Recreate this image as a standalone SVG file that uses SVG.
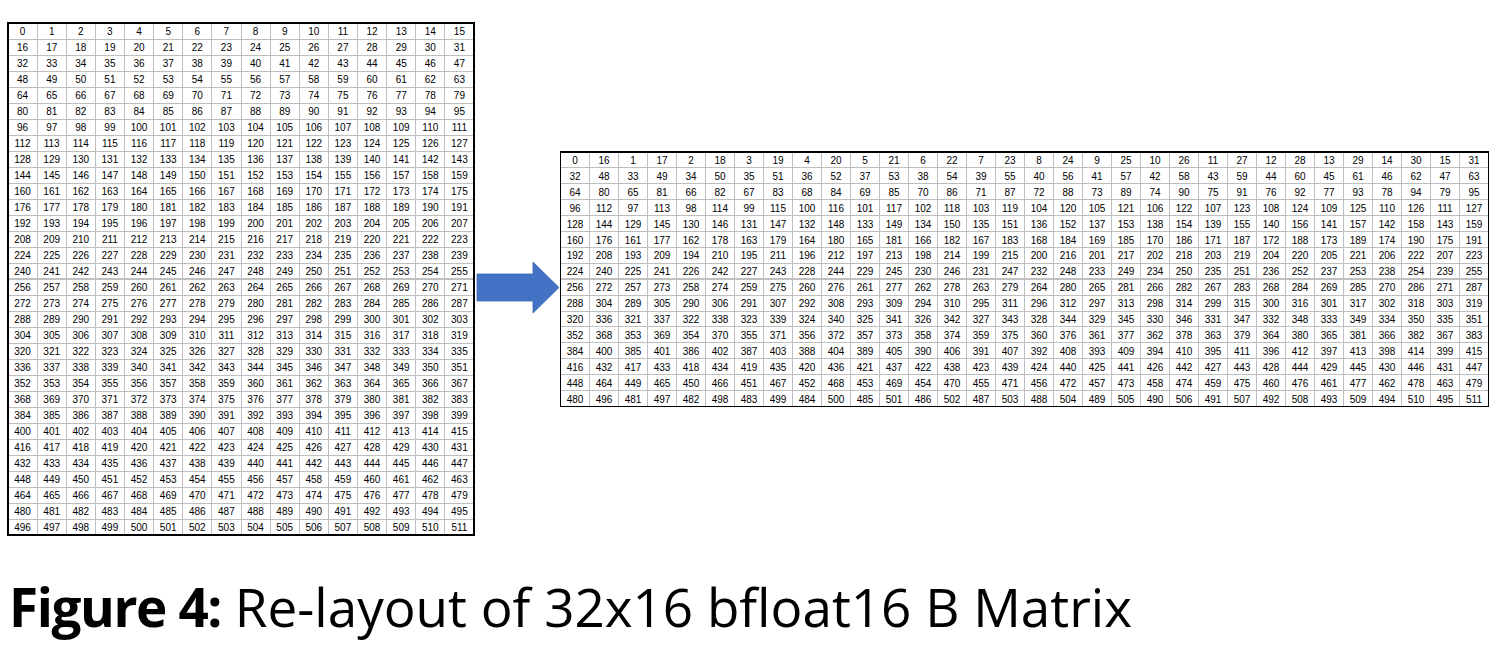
<svg xmlns="http://www.w3.org/2000/svg" width="1511" height="650" viewBox="0 0 1511 650">
<style>
.t{font-family:"Liberation Sans",Arial,sans-serif;font-size:10px;fill:#000;text-anchor:middle}
.grid{fill:none;stroke:#BFBFBF;stroke-width:1;shape-rendering:crispEdges}
.thick{fill:none;stroke:#BFBFBF;stroke-width:2;shape-rendering:crispEdges}
.border{fill:none;stroke:#000;stroke-width:1.2;shape-rendering:crispEdges}
.cap{font-family:"Open Sans","Noto Sans",sans-serif;font-size:53px;fill:#000}
</style>
<rect width="1511" height="650" fill="#fff"/>
<g id="matrix-original">
<path class="grid" d="M37.1 23V535M66.3 23V535M95.4 23V535M124.5 23V535M153.6 23V535M182.8 23V535M211.9 23V535M241 23V535M270.1 23V535M299.3 23V535M328.4 23V535M357.5 23V535M386.6 23V535M415.8 23V535M444.9 23V535M8 39H474M8 55H474M8 71H474M8 87H474M8 103H474M8 119H474M8 135H474M8 151H474M8 167H474M8 183H474M8 199H474M8 215H474M8 231H474M8 247H474M8 263H474M8 295H474M8 311H474M8 327H474M8 343H474M8 359H474M8 375H474M8 391H474M8 407H474M8 423H474M8 439H474M8 455H474M8 471H474M8 487H474M8 503H474M8 519H474"/>
<path class="thick" d="M8 279H474"/>
<rect class="border" x="8" y="23" width="466" height="512"/>
<g class="t">
<text y="35"><tspan x="22.6">0</tspan><tspan x="51.7">1</tspan><tspan x="80.8">2</tspan><tspan x="109.9">3</tspan><tspan x="139.1">4</tspan><tspan x="168.2">5</tspan><tspan x="197.3">6</tspan><tspan x="226.4">7</tspan><tspan x="255.6">8</tspan><tspan x="284.7">9</tspan><tspan x="313.8">10</tspan><tspan x="342.9">11</tspan><tspan x="372.1">12</tspan><tspan x="401.2">13</tspan><tspan x="430.3">14</tspan><tspan x="459.4">15</tspan></text>
<text y="51"><tspan x="22.6">16</tspan><tspan x="51.7">17</tspan><tspan x="80.8">18</tspan><tspan x="109.9">19</tspan><tspan x="139.1">20</tspan><tspan x="168.2">21</tspan><tspan x="197.3">22</tspan><tspan x="226.4">23</tspan><tspan x="255.6">24</tspan><tspan x="284.7">25</tspan><tspan x="313.8">26</tspan><tspan x="342.9">27</tspan><tspan x="372.1">28</tspan><tspan x="401.2">29</tspan><tspan x="430.3">30</tspan><tspan x="459.4">31</tspan></text>
<text y="67"><tspan x="22.6">32</tspan><tspan x="51.7">33</tspan><tspan x="80.8">34</tspan><tspan x="109.9">35</tspan><tspan x="139.1">36</tspan><tspan x="168.2">37</tspan><tspan x="197.3">38</tspan><tspan x="226.4">39</tspan><tspan x="255.6">40</tspan><tspan x="284.7">41</tspan><tspan x="313.8">42</tspan><tspan x="342.9">43</tspan><tspan x="372.1">44</tspan><tspan x="401.2">45</tspan><tspan x="430.3">46</tspan><tspan x="459.4">47</tspan></text>
<text y="83"><tspan x="22.6">48</tspan><tspan x="51.7">49</tspan><tspan x="80.8">50</tspan><tspan x="109.9">51</tspan><tspan x="139.1">52</tspan><tspan x="168.2">53</tspan><tspan x="197.3">54</tspan><tspan x="226.4">55</tspan><tspan x="255.6">56</tspan><tspan x="284.7">57</tspan><tspan x="313.8">58</tspan><tspan x="342.9">59</tspan><tspan x="372.1">60</tspan><tspan x="401.2">61</tspan><tspan x="430.3">62</tspan><tspan x="459.4">63</tspan></text>
<text y="99"><tspan x="22.6">64</tspan><tspan x="51.7">65</tspan><tspan x="80.8">66</tspan><tspan x="109.9">67</tspan><tspan x="139.1">68</tspan><tspan x="168.2">69</tspan><tspan x="197.3">70</tspan><tspan x="226.4">71</tspan><tspan x="255.6">72</tspan><tspan x="284.7">73</tspan><tspan x="313.8">74</tspan><tspan x="342.9">75</tspan><tspan x="372.1">76</tspan><tspan x="401.2">77</tspan><tspan x="430.3">78</tspan><tspan x="459.4">79</tspan></text>
<text y="115"><tspan x="22.6">80</tspan><tspan x="51.7">81</tspan><tspan x="80.8">82</tspan><tspan x="109.9">83</tspan><tspan x="139.1">84</tspan><tspan x="168.2">85</tspan><tspan x="197.3">86</tspan><tspan x="226.4">87</tspan><tspan x="255.6">88</tspan><tspan x="284.7">89</tspan><tspan x="313.8">90</tspan><tspan x="342.9">91</tspan><tspan x="372.1">92</tspan><tspan x="401.2">93</tspan><tspan x="430.3">94</tspan><tspan x="459.4">95</tspan></text>
<text y="131"><tspan x="22.6">96</tspan><tspan x="51.7">97</tspan><tspan x="80.8">98</tspan><tspan x="109.9">99</tspan><tspan x="139.1">100</tspan><tspan x="168.2">101</tspan><tspan x="197.3">102</tspan><tspan x="226.4">103</tspan><tspan x="255.6">104</tspan><tspan x="284.7">105</tspan><tspan x="313.8">106</tspan><tspan x="342.9">107</tspan><tspan x="372.1">108</tspan><tspan x="401.2">109</tspan><tspan x="430.3">110</tspan><tspan x="459.4">111</tspan></text>
<text y="147"><tspan x="22.6">112</tspan><tspan x="51.7">113</tspan><tspan x="80.8">114</tspan><tspan x="109.9">115</tspan><tspan x="139.1">116</tspan><tspan x="168.2">117</tspan><tspan x="197.3">118</tspan><tspan x="226.4">119</tspan><tspan x="255.6">120</tspan><tspan x="284.7">121</tspan><tspan x="313.8">122</tspan><tspan x="342.9">123</tspan><tspan x="372.1">124</tspan><tspan x="401.2">125</tspan><tspan x="430.3">126</tspan><tspan x="459.4">127</tspan></text>
<text y="163"><tspan x="22.6">128</tspan><tspan x="51.7">129</tspan><tspan x="80.8">130</tspan><tspan x="109.9">131</tspan><tspan x="139.1">132</tspan><tspan x="168.2">133</tspan><tspan x="197.3">134</tspan><tspan x="226.4">135</tspan><tspan x="255.6">136</tspan><tspan x="284.7">137</tspan><tspan x="313.8">138</tspan><tspan x="342.9">139</tspan><tspan x="372.1">140</tspan><tspan x="401.2">141</tspan><tspan x="430.3">142</tspan><tspan x="459.4">143</tspan></text>
<text y="179"><tspan x="22.6">144</tspan><tspan x="51.7">145</tspan><tspan x="80.8">146</tspan><tspan x="109.9">147</tspan><tspan x="139.1">148</tspan><tspan x="168.2">149</tspan><tspan x="197.3">150</tspan><tspan x="226.4">151</tspan><tspan x="255.6">152</tspan><tspan x="284.7">153</tspan><tspan x="313.8">154</tspan><tspan x="342.9">155</tspan><tspan x="372.1">156</tspan><tspan x="401.2">157</tspan><tspan x="430.3">158</tspan><tspan x="459.4">159</tspan></text>
<text y="195"><tspan x="22.6">160</tspan><tspan x="51.7">161</tspan><tspan x="80.8">162</tspan><tspan x="109.9">163</tspan><tspan x="139.1">164</tspan><tspan x="168.2">165</tspan><tspan x="197.3">166</tspan><tspan x="226.4">167</tspan><tspan x="255.6">168</tspan><tspan x="284.7">169</tspan><tspan x="313.8">170</tspan><tspan x="342.9">171</tspan><tspan x="372.1">172</tspan><tspan x="401.2">173</tspan><tspan x="430.3">174</tspan><tspan x="459.4">175</tspan></text>
<text y="211"><tspan x="22.6">176</tspan><tspan x="51.7">177</tspan><tspan x="80.8">178</tspan><tspan x="109.9">179</tspan><tspan x="139.1">180</tspan><tspan x="168.2">181</tspan><tspan x="197.3">182</tspan><tspan x="226.4">183</tspan><tspan x="255.6">184</tspan><tspan x="284.7">185</tspan><tspan x="313.8">186</tspan><tspan x="342.9">187</tspan><tspan x="372.1">188</tspan><tspan x="401.2">189</tspan><tspan x="430.3">190</tspan><tspan x="459.4">191</tspan></text>
<text y="227"><tspan x="22.6">192</tspan><tspan x="51.7">193</tspan><tspan x="80.8">194</tspan><tspan x="109.9">195</tspan><tspan x="139.1">196</tspan><tspan x="168.2">197</tspan><tspan x="197.3">198</tspan><tspan x="226.4">199</tspan><tspan x="255.6">200</tspan><tspan x="284.7">201</tspan><tspan x="313.8">202</tspan><tspan x="342.9">203</tspan><tspan x="372.1">204</tspan><tspan x="401.2">205</tspan><tspan x="430.3">206</tspan><tspan x="459.4">207</tspan></text>
<text y="243"><tspan x="22.6">208</tspan><tspan x="51.7">209</tspan><tspan x="80.8">210</tspan><tspan x="109.9">211</tspan><tspan x="139.1">212</tspan><tspan x="168.2">213</tspan><tspan x="197.3">214</tspan><tspan x="226.4">215</tspan><tspan x="255.6">216</tspan><tspan x="284.7">217</tspan><tspan x="313.8">218</tspan><tspan x="342.9">219</tspan><tspan x="372.1">220</tspan><tspan x="401.2">221</tspan><tspan x="430.3">222</tspan><tspan x="459.4">223</tspan></text>
<text y="259"><tspan x="22.6">224</tspan><tspan x="51.7">225</tspan><tspan x="80.8">226</tspan><tspan x="109.9">227</tspan><tspan x="139.1">228</tspan><tspan x="168.2">229</tspan><tspan x="197.3">230</tspan><tspan x="226.4">231</tspan><tspan x="255.6">232</tspan><tspan x="284.7">233</tspan><tspan x="313.8">234</tspan><tspan x="342.9">235</tspan><tspan x="372.1">236</tspan><tspan x="401.2">237</tspan><tspan x="430.3">238</tspan><tspan x="459.4">239</tspan></text>
<text y="275"><tspan x="22.6">240</tspan><tspan x="51.7">241</tspan><tspan x="80.8">242</tspan><tspan x="109.9">243</tspan><tspan x="139.1">244</tspan><tspan x="168.2">245</tspan><tspan x="197.3">246</tspan><tspan x="226.4">247</tspan><tspan x="255.6">248</tspan><tspan x="284.7">249</tspan><tspan x="313.8">250</tspan><tspan x="342.9">251</tspan><tspan x="372.1">252</tspan><tspan x="401.2">253</tspan><tspan x="430.3">254</tspan><tspan x="459.4">255</tspan></text>
<text y="291"><tspan x="22.6">256</tspan><tspan x="51.7">257</tspan><tspan x="80.8">258</tspan><tspan x="109.9">259</tspan><tspan x="139.1">260</tspan><tspan x="168.2">261</tspan><tspan x="197.3">262</tspan><tspan x="226.4">263</tspan><tspan x="255.6">264</tspan><tspan x="284.7">265</tspan><tspan x="313.8">266</tspan><tspan x="342.9">267</tspan><tspan x="372.1">268</tspan><tspan x="401.2">269</tspan><tspan x="430.3">270</tspan><tspan x="459.4">271</tspan></text>
<text y="307"><tspan x="22.6">272</tspan><tspan x="51.7">273</tspan><tspan x="80.8">274</tspan><tspan x="109.9">275</tspan><tspan x="139.1">276</tspan><tspan x="168.2">277</tspan><tspan x="197.3">278</tspan><tspan x="226.4">279</tspan><tspan x="255.6">280</tspan><tspan x="284.7">281</tspan><tspan x="313.8">282</tspan><tspan x="342.9">283</tspan><tspan x="372.1">284</tspan><tspan x="401.2">285</tspan><tspan x="430.3">286</tspan><tspan x="459.4">287</tspan></text>
<text y="323"><tspan x="22.6">288</tspan><tspan x="51.7">289</tspan><tspan x="80.8">290</tspan><tspan x="109.9">291</tspan><tspan x="139.1">292</tspan><tspan x="168.2">293</tspan><tspan x="197.3">294</tspan><tspan x="226.4">295</tspan><tspan x="255.6">296</tspan><tspan x="284.7">297</tspan><tspan x="313.8">298</tspan><tspan x="342.9">299</tspan><tspan x="372.1">300</tspan><tspan x="401.2">301</tspan><tspan x="430.3">302</tspan><tspan x="459.4">303</tspan></text>
<text y="339"><tspan x="22.6">304</tspan><tspan x="51.7">305</tspan><tspan x="80.8">306</tspan><tspan x="109.9">307</tspan><tspan x="139.1">308</tspan><tspan x="168.2">309</tspan><tspan x="197.3">310</tspan><tspan x="226.4">311</tspan><tspan x="255.6">312</tspan><tspan x="284.7">313</tspan><tspan x="313.8">314</tspan><tspan x="342.9">315</tspan><tspan x="372.1">316</tspan><tspan x="401.2">317</tspan><tspan x="430.3">318</tspan><tspan x="459.4">319</tspan></text>
<text y="355"><tspan x="22.6">320</tspan><tspan x="51.7">321</tspan><tspan x="80.8">322</tspan><tspan x="109.9">323</tspan><tspan x="139.1">324</tspan><tspan x="168.2">325</tspan><tspan x="197.3">326</tspan><tspan x="226.4">327</tspan><tspan x="255.6">328</tspan><tspan x="284.7">329</tspan><tspan x="313.8">330</tspan><tspan x="342.9">331</tspan><tspan x="372.1">332</tspan><tspan x="401.2">333</tspan><tspan x="430.3">334</tspan><tspan x="459.4">335</tspan></text>
<text y="371"><tspan x="22.6">336</tspan><tspan x="51.7">337</tspan><tspan x="80.8">338</tspan><tspan x="109.9">339</tspan><tspan x="139.1">340</tspan><tspan x="168.2">341</tspan><tspan x="197.3">342</tspan><tspan x="226.4">343</tspan><tspan x="255.6">344</tspan><tspan x="284.7">345</tspan><tspan x="313.8">346</tspan><tspan x="342.9">347</tspan><tspan x="372.1">348</tspan><tspan x="401.2">349</tspan><tspan x="430.3">350</tspan><tspan x="459.4">351</tspan></text>
<text y="387"><tspan x="22.6">352</tspan><tspan x="51.7">353</tspan><tspan x="80.8">354</tspan><tspan x="109.9">355</tspan><tspan x="139.1">356</tspan><tspan x="168.2">357</tspan><tspan x="197.3">358</tspan><tspan x="226.4">359</tspan><tspan x="255.6">360</tspan><tspan x="284.7">361</tspan><tspan x="313.8">362</tspan><tspan x="342.9">363</tspan><tspan x="372.1">364</tspan><tspan x="401.2">365</tspan><tspan x="430.3">366</tspan><tspan x="459.4">367</tspan></text>
<text y="403"><tspan x="22.6">368</tspan><tspan x="51.7">369</tspan><tspan x="80.8">370</tspan><tspan x="109.9">371</tspan><tspan x="139.1">372</tspan><tspan x="168.2">373</tspan><tspan x="197.3">374</tspan><tspan x="226.4">375</tspan><tspan x="255.6">376</tspan><tspan x="284.7">377</tspan><tspan x="313.8">378</tspan><tspan x="342.9">379</tspan><tspan x="372.1">380</tspan><tspan x="401.2">381</tspan><tspan x="430.3">382</tspan><tspan x="459.4">383</tspan></text>
<text y="419"><tspan x="22.6">384</tspan><tspan x="51.7">385</tspan><tspan x="80.8">386</tspan><tspan x="109.9">387</tspan><tspan x="139.1">388</tspan><tspan x="168.2">389</tspan><tspan x="197.3">390</tspan><tspan x="226.4">391</tspan><tspan x="255.6">392</tspan><tspan x="284.7">393</tspan><tspan x="313.8">394</tspan><tspan x="342.9">395</tspan><tspan x="372.1">396</tspan><tspan x="401.2">397</tspan><tspan x="430.3">398</tspan><tspan x="459.4">399</tspan></text>
<text y="435"><tspan x="22.6">400</tspan><tspan x="51.7">401</tspan><tspan x="80.8">402</tspan><tspan x="109.9">403</tspan><tspan x="139.1">404</tspan><tspan x="168.2">405</tspan><tspan x="197.3">406</tspan><tspan x="226.4">407</tspan><tspan x="255.6">408</tspan><tspan x="284.7">409</tspan><tspan x="313.8">410</tspan><tspan x="342.9">411</tspan><tspan x="372.1">412</tspan><tspan x="401.2">413</tspan><tspan x="430.3">414</tspan><tspan x="459.4">415</tspan></text>
<text y="451"><tspan x="22.6">416</tspan><tspan x="51.7">417</tspan><tspan x="80.8">418</tspan><tspan x="109.9">419</tspan><tspan x="139.1">420</tspan><tspan x="168.2">421</tspan><tspan x="197.3">422</tspan><tspan x="226.4">423</tspan><tspan x="255.6">424</tspan><tspan x="284.7">425</tspan><tspan x="313.8">426</tspan><tspan x="342.9">427</tspan><tspan x="372.1">428</tspan><tspan x="401.2">429</tspan><tspan x="430.3">430</tspan><tspan x="459.4">431</tspan></text>
<text y="467"><tspan x="22.6">432</tspan><tspan x="51.7">433</tspan><tspan x="80.8">434</tspan><tspan x="109.9">435</tspan><tspan x="139.1">436</tspan><tspan x="168.2">437</tspan><tspan x="197.3">438</tspan><tspan x="226.4">439</tspan><tspan x="255.6">440</tspan><tspan x="284.7">441</tspan><tspan x="313.8">442</tspan><tspan x="342.9">443</tspan><tspan x="372.1">444</tspan><tspan x="401.2">445</tspan><tspan x="430.3">446</tspan><tspan x="459.4">447</tspan></text>
<text y="483"><tspan x="22.6">448</tspan><tspan x="51.7">449</tspan><tspan x="80.8">450</tspan><tspan x="109.9">451</tspan><tspan x="139.1">452</tspan><tspan x="168.2">453</tspan><tspan x="197.3">454</tspan><tspan x="226.4">455</tspan><tspan x="255.6">456</tspan><tspan x="284.7">457</tspan><tspan x="313.8">458</tspan><tspan x="342.9">459</tspan><tspan x="372.1">460</tspan><tspan x="401.2">461</tspan><tspan x="430.3">462</tspan><tspan x="459.4">463</tspan></text>
<text y="499"><tspan x="22.6">464</tspan><tspan x="51.7">465</tspan><tspan x="80.8">466</tspan><tspan x="109.9">467</tspan><tspan x="139.1">468</tspan><tspan x="168.2">469</tspan><tspan x="197.3">470</tspan><tspan x="226.4">471</tspan><tspan x="255.6">472</tspan><tspan x="284.7">473</tspan><tspan x="313.8">474</tspan><tspan x="342.9">475</tspan><tspan x="372.1">476</tspan><tspan x="401.2">477</tspan><tspan x="430.3">478</tspan><tspan x="459.4">479</tspan></text>
<text y="515"><tspan x="22.6">480</tspan><tspan x="51.7">481</tspan><tspan x="80.8">482</tspan><tspan x="109.9">483</tspan><tspan x="139.1">484</tspan><tspan x="168.2">485</tspan><tspan x="197.3">486</tspan><tspan x="226.4">487</tspan><tspan x="255.6">488</tspan><tspan x="284.7">489</tspan><tspan x="313.8">490</tspan><tspan x="342.9">491</tspan><tspan x="372.1">492</tspan><tspan x="401.2">493</tspan><tspan x="430.3">494</tspan><tspan x="459.4">495</tspan></text>
<text y="531"><tspan x="22.6">496</tspan><tspan x="51.7">497</tspan><tspan x="80.8">498</tspan><tspan x="109.9">499</tspan><tspan x="139.1">500</tspan><tspan x="168.2">501</tspan><tspan x="197.3">502</tspan><tspan x="226.4">503</tspan><tspan x="255.6">504</tspan><tspan x="284.7">505</tspan><tspan x="313.8">506</tspan><tspan x="342.9">507</tspan><tspan x="372.1">508</tspan><tspan x="401.2">509</tspan><tspan x="430.3">510</tspan><tspan x="459.4">511</tspan></text>
</g>
</g>
<g id="matrix-relayout">
<path class="grid" d="M589.5 152V406.4M618.5 152V406.4M647.5 152V406.4M676.5 152V406.4M705.5 152V406.4M734.5 152V406.4M763.5 152V406.4M792.5 152V406.4M821.5 152V406.4M850.5 152V406.4M879.5 152V406.4M908.5 152V406.4M937.5 152V406.4M966.5 152V406.4M995.5 152V406.4M1024.5 152V406.4M1053.5 152V406.4M1082.5 152V406.4M1111.5 152V406.4M1140.5 152V406.4M1169.5 152V406.4M1198.5 152V406.4M1227.5 152V406.4M1256.5 152V406.4M1285.5 152V406.4M1314.5 152V406.4M1343.5 152V406.4M1372.5 152V406.4M1401.5 152V406.4M1430.5 152V406.4M1459.5 152V406.4M560.5 167.9H1488.5M560.5 183.8H1488.5M560.5 199.7H1488.5M560.5 215.6H1488.5M560.5 231.5H1488.5M560.5 247.4H1488.5M560.5 263.3H1488.5M560.5 295.1H1488.5M560.5 311H1488.5M560.5 326.9H1488.5M560.5 342.8H1488.5M560.5 358.7H1488.5M560.5 374.6H1488.5M560.5 390.5H1488.5"/>
<path class="thick" d="M560.5 279.2H1488.5"/>
<rect class="border" x="560.5" y="152" width="928" height="254.4"/>
<g class="t">
<text y="164"><tspan x="575">0</tspan><tspan x="604">16</tspan><tspan x="633">1</tspan><tspan x="662">17</tspan><tspan x="691">2</tspan><tspan x="720">18</tspan><tspan x="749">3</tspan><tspan x="778">19</tspan><tspan x="807">4</tspan><tspan x="836">20</tspan><tspan x="865">5</tspan><tspan x="894">21</tspan><tspan x="923">6</tspan><tspan x="952">22</tspan><tspan x="981">7</tspan><tspan x="1010">23</tspan><tspan x="1039">8</tspan><tspan x="1068">24</tspan><tspan x="1097">9</tspan><tspan x="1126">25</tspan><tspan x="1155">10</tspan><tspan x="1184">26</tspan><tspan x="1213">11</tspan><tspan x="1242">27</tspan><tspan x="1271">12</tspan><tspan x="1300">28</tspan><tspan x="1329">13</tspan><tspan x="1358">29</tspan><tspan x="1387">14</tspan><tspan x="1416">30</tspan><tspan x="1445">15</tspan><tspan x="1474">31</tspan></text>
<text y="179.9"><tspan x="575">32</tspan><tspan x="604">48</tspan><tspan x="633">33</tspan><tspan x="662">49</tspan><tspan x="691">34</tspan><tspan x="720">50</tspan><tspan x="749">35</tspan><tspan x="778">51</tspan><tspan x="807">36</tspan><tspan x="836">52</tspan><tspan x="865">37</tspan><tspan x="894">53</tspan><tspan x="923">38</tspan><tspan x="952">54</tspan><tspan x="981">39</tspan><tspan x="1010">55</tspan><tspan x="1039">40</tspan><tspan x="1068">56</tspan><tspan x="1097">41</tspan><tspan x="1126">57</tspan><tspan x="1155">42</tspan><tspan x="1184">58</tspan><tspan x="1213">43</tspan><tspan x="1242">59</tspan><tspan x="1271">44</tspan><tspan x="1300">60</tspan><tspan x="1329">45</tspan><tspan x="1358">61</tspan><tspan x="1387">46</tspan><tspan x="1416">62</tspan><tspan x="1445">47</tspan><tspan x="1474">63</tspan></text>
<text y="195.8"><tspan x="575">64</tspan><tspan x="604">80</tspan><tspan x="633">65</tspan><tspan x="662">81</tspan><tspan x="691">66</tspan><tspan x="720">82</tspan><tspan x="749">67</tspan><tspan x="778">83</tspan><tspan x="807">68</tspan><tspan x="836">84</tspan><tspan x="865">69</tspan><tspan x="894">85</tspan><tspan x="923">70</tspan><tspan x="952">86</tspan><tspan x="981">71</tspan><tspan x="1010">87</tspan><tspan x="1039">72</tspan><tspan x="1068">88</tspan><tspan x="1097">73</tspan><tspan x="1126">89</tspan><tspan x="1155">74</tspan><tspan x="1184">90</tspan><tspan x="1213">75</tspan><tspan x="1242">91</tspan><tspan x="1271">76</tspan><tspan x="1300">92</tspan><tspan x="1329">77</tspan><tspan x="1358">93</tspan><tspan x="1387">78</tspan><tspan x="1416">94</tspan><tspan x="1445">79</tspan><tspan x="1474">95</tspan></text>
<text y="211.7"><tspan x="575">96</tspan><tspan x="604">112</tspan><tspan x="633">97</tspan><tspan x="662">113</tspan><tspan x="691">98</tspan><tspan x="720">114</tspan><tspan x="749">99</tspan><tspan x="778">115</tspan><tspan x="807">100</tspan><tspan x="836">116</tspan><tspan x="865">101</tspan><tspan x="894">117</tspan><tspan x="923">102</tspan><tspan x="952">118</tspan><tspan x="981">103</tspan><tspan x="1010">119</tspan><tspan x="1039">104</tspan><tspan x="1068">120</tspan><tspan x="1097">105</tspan><tspan x="1126">121</tspan><tspan x="1155">106</tspan><tspan x="1184">122</tspan><tspan x="1213">107</tspan><tspan x="1242">123</tspan><tspan x="1271">108</tspan><tspan x="1300">124</tspan><tspan x="1329">109</tspan><tspan x="1358">125</tspan><tspan x="1387">110</tspan><tspan x="1416">126</tspan><tspan x="1445">111</tspan><tspan x="1474">127</tspan></text>
<text y="227.6"><tspan x="575">128</tspan><tspan x="604">144</tspan><tspan x="633">129</tspan><tspan x="662">145</tspan><tspan x="691">130</tspan><tspan x="720">146</tspan><tspan x="749">131</tspan><tspan x="778">147</tspan><tspan x="807">132</tspan><tspan x="836">148</tspan><tspan x="865">133</tspan><tspan x="894">149</tspan><tspan x="923">134</tspan><tspan x="952">150</tspan><tspan x="981">135</tspan><tspan x="1010">151</tspan><tspan x="1039">136</tspan><tspan x="1068">152</tspan><tspan x="1097">137</tspan><tspan x="1126">153</tspan><tspan x="1155">138</tspan><tspan x="1184">154</tspan><tspan x="1213">139</tspan><tspan x="1242">155</tspan><tspan x="1271">140</tspan><tspan x="1300">156</tspan><tspan x="1329">141</tspan><tspan x="1358">157</tspan><tspan x="1387">142</tspan><tspan x="1416">158</tspan><tspan x="1445">143</tspan><tspan x="1474">159</tspan></text>
<text y="243.5"><tspan x="575">160</tspan><tspan x="604">176</tspan><tspan x="633">161</tspan><tspan x="662">177</tspan><tspan x="691">162</tspan><tspan x="720">178</tspan><tspan x="749">163</tspan><tspan x="778">179</tspan><tspan x="807">164</tspan><tspan x="836">180</tspan><tspan x="865">165</tspan><tspan x="894">181</tspan><tspan x="923">166</tspan><tspan x="952">182</tspan><tspan x="981">167</tspan><tspan x="1010">183</tspan><tspan x="1039">168</tspan><tspan x="1068">184</tspan><tspan x="1097">169</tspan><tspan x="1126">185</tspan><tspan x="1155">170</tspan><tspan x="1184">186</tspan><tspan x="1213">171</tspan><tspan x="1242">187</tspan><tspan x="1271">172</tspan><tspan x="1300">188</tspan><tspan x="1329">173</tspan><tspan x="1358">189</tspan><tspan x="1387">174</tspan><tspan x="1416">190</tspan><tspan x="1445">175</tspan><tspan x="1474">191</tspan></text>
<text y="259.4"><tspan x="575">192</tspan><tspan x="604">208</tspan><tspan x="633">193</tspan><tspan x="662">209</tspan><tspan x="691">194</tspan><tspan x="720">210</tspan><tspan x="749">195</tspan><tspan x="778">211</tspan><tspan x="807">196</tspan><tspan x="836">212</tspan><tspan x="865">197</tspan><tspan x="894">213</tspan><tspan x="923">198</tspan><tspan x="952">214</tspan><tspan x="981">199</tspan><tspan x="1010">215</tspan><tspan x="1039">200</tspan><tspan x="1068">216</tspan><tspan x="1097">201</tspan><tspan x="1126">217</tspan><tspan x="1155">202</tspan><tspan x="1184">218</tspan><tspan x="1213">203</tspan><tspan x="1242">219</tspan><tspan x="1271">204</tspan><tspan x="1300">220</tspan><tspan x="1329">205</tspan><tspan x="1358">221</tspan><tspan x="1387">206</tspan><tspan x="1416">222</tspan><tspan x="1445">207</tspan><tspan x="1474">223</tspan></text>
<text y="275.3"><tspan x="575">224</tspan><tspan x="604">240</tspan><tspan x="633">225</tspan><tspan x="662">241</tspan><tspan x="691">226</tspan><tspan x="720">242</tspan><tspan x="749">227</tspan><tspan x="778">243</tspan><tspan x="807">228</tspan><tspan x="836">244</tspan><tspan x="865">229</tspan><tspan x="894">245</tspan><tspan x="923">230</tspan><tspan x="952">246</tspan><tspan x="981">231</tspan><tspan x="1010">247</tspan><tspan x="1039">232</tspan><tspan x="1068">248</tspan><tspan x="1097">233</tspan><tspan x="1126">249</tspan><tspan x="1155">234</tspan><tspan x="1184">250</tspan><tspan x="1213">235</tspan><tspan x="1242">251</tspan><tspan x="1271">236</tspan><tspan x="1300">252</tspan><tspan x="1329">237</tspan><tspan x="1358">253</tspan><tspan x="1387">238</tspan><tspan x="1416">254</tspan><tspan x="1445">239</tspan><tspan x="1474">255</tspan></text>
<text y="291.2"><tspan x="575">256</tspan><tspan x="604">272</tspan><tspan x="633">257</tspan><tspan x="662">273</tspan><tspan x="691">258</tspan><tspan x="720">274</tspan><tspan x="749">259</tspan><tspan x="778">275</tspan><tspan x="807">260</tspan><tspan x="836">276</tspan><tspan x="865">261</tspan><tspan x="894">277</tspan><tspan x="923">262</tspan><tspan x="952">278</tspan><tspan x="981">263</tspan><tspan x="1010">279</tspan><tspan x="1039">264</tspan><tspan x="1068">280</tspan><tspan x="1097">265</tspan><tspan x="1126">281</tspan><tspan x="1155">266</tspan><tspan x="1184">282</tspan><tspan x="1213">267</tspan><tspan x="1242">283</tspan><tspan x="1271">268</tspan><tspan x="1300">284</tspan><tspan x="1329">269</tspan><tspan x="1358">285</tspan><tspan x="1387">270</tspan><tspan x="1416">286</tspan><tspan x="1445">271</tspan><tspan x="1474">287</tspan></text>
<text y="307.1"><tspan x="575">288</tspan><tspan x="604">304</tspan><tspan x="633">289</tspan><tspan x="662">305</tspan><tspan x="691">290</tspan><tspan x="720">306</tspan><tspan x="749">291</tspan><tspan x="778">307</tspan><tspan x="807">292</tspan><tspan x="836">308</tspan><tspan x="865">293</tspan><tspan x="894">309</tspan><tspan x="923">294</tspan><tspan x="952">310</tspan><tspan x="981">295</tspan><tspan x="1010">311</tspan><tspan x="1039">296</tspan><tspan x="1068">312</tspan><tspan x="1097">297</tspan><tspan x="1126">313</tspan><tspan x="1155">298</tspan><tspan x="1184">314</tspan><tspan x="1213">299</tspan><tspan x="1242">315</tspan><tspan x="1271">300</tspan><tspan x="1300">316</tspan><tspan x="1329">301</tspan><tspan x="1358">317</tspan><tspan x="1387">302</tspan><tspan x="1416">318</tspan><tspan x="1445">303</tspan><tspan x="1474">319</tspan></text>
<text y="323"><tspan x="575">320</tspan><tspan x="604">336</tspan><tspan x="633">321</tspan><tspan x="662">337</tspan><tspan x="691">322</tspan><tspan x="720">338</tspan><tspan x="749">323</tspan><tspan x="778">339</tspan><tspan x="807">324</tspan><tspan x="836">340</tspan><tspan x="865">325</tspan><tspan x="894">341</tspan><tspan x="923">326</tspan><tspan x="952">342</tspan><tspan x="981">327</tspan><tspan x="1010">343</tspan><tspan x="1039">328</tspan><tspan x="1068">344</tspan><tspan x="1097">329</tspan><tspan x="1126">345</tspan><tspan x="1155">330</tspan><tspan x="1184">346</tspan><tspan x="1213">331</tspan><tspan x="1242">347</tspan><tspan x="1271">332</tspan><tspan x="1300">348</tspan><tspan x="1329">333</tspan><tspan x="1358">349</tspan><tspan x="1387">334</tspan><tspan x="1416">350</tspan><tspan x="1445">335</tspan><tspan x="1474">351</tspan></text>
<text y="338.9"><tspan x="575">352</tspan><tspan x="604">368</tspan><tspan x="633">353</tspan><tspan x="662">369</tspan><tspan x="691">354</tspan><tspan x="720">370</tspan><tspan x="749">355</tspan><tspan x="778">371</tspan><tspan x="807">356</tspan><tspan x="836">372</tspan><tspan x="865">357</tspan><tspan x="894">373</tspan><tspan x="923">358</tspan><tspan x="952">374</tspan><tspan x="981">359</tspan><tspan x="1010">375</tspan><tspan x="1039">360</tspan><tspan x="1068">376</tspan><tspan x="1097">361</tspan><tspan x="1126">377</tspan><tspan x="1155">362</tspan><tspan x="1184">378</tspan><tspan x="1213">363</tspan><tspan x="1242">379</tspan><tspan x="1271">364</tspan><tspan x="1300">380</tspan><tspan x="1329">365</tspan><tspan x="1358">381</tspan><tspan x="1387">366</tspan><tspan x="1416">382</tspan><tspan x="1445">367</tspan><tspan x="1474">383</tspan></text>
<text y="354.8"><tspan x="575">384</tspan><tspan x="604">400</tspan><tspan x="633">385</tspan><tspan x="662">401</tspan><tspan x="691">386</tspan><tspan x="720">402</tspan><tspan x="749">387</tspan><tspan x="778">403</tspan><tspan x="807">388</tspan><tspan x="836">404</tspan><tspan x="865">389</tspan><tspan x="894">405</tspan><tspan x="923">390</tspan><tspan x="952">406</tspan><tspan x="981">391</tspan><tspan x="1010">407</tspan><tspan x="1039">392</tspan><tspan x="1068">408</tspan><tspan x="1097">393</tspan><tspan x="1126">409</tspan><tspan x="1155">394</tspan><tspan x="1184">410</tspan><tspan x="1213">395</tspan><tspan x="1242">411</tspan><tspan x="1271">396</tspan><tspan x="1300">412</tspan><tspan x="1329">397</tspan><tspan x="1358">413</tspan><tspan x="1387">398</tspan><tspan x="1416">414</tspan><tspan x="1445">399</tspan><tspan x="1474">415</tspan></text>
<text y="370.7"><tspan x="575">416</tspan><tspan x="604">432</tspan><tspan x="633">417</tspan><tspan x="662">433</tspan><tspan x="691">418</tspan><tspan x="720">434</tspan><tspan x="749">419</tspan><tspan x="778">435</tspan><tspan x="807">420</tspan><tspan x="836">436</tspan><tspan x="865">421</tspan><tspan x="894">437</tspan><tspan x="923">422</tspan><tspan x="952">438</tspan><tspan x="981">423</tspan><tspan x="1010">439</tspan><tspan x="1039">424</tspan><tspan x="1068">440</tspan><tspan x="1097">425</tspan><tspan x="1126">441</tspan><tspan x="1155">426</tspan><tspan x="1184">442</tspan><tspan x="1213">427</tspan><tspan x="1242">443</tspan><tspan x="1271">428</tspan><tspan x="1300">444</tspan><tspan x="1329">429</tspan><tspan x="1358">445</tspan><tspan x="1387">430</tspan><tspan x="1416">446</tspan><tspan x="1445">431</tspan><tspan x="1474">447</tspan></text>
<text y="386.6"><tspan x="575">448</tspan><tspan x="604">464</tspan><tspan x="633">449</tspan><tspan x="662">465</tspan><tspan x="691">450</tspan><tspan x="720">466</tspan><tspan x="749">451</tspan><tspan x="778">467</tspan><tspan x="807">452</tspan><tspan x="836">468</tspan><tspan x="865">453</tspan><tspan x="894">469</tspan><tspan x="923">454</tspan><tspan x="952">470</tspan><tspan x="981">455</tspan><tspan x="1010">471</tspan><tspan x="1039">456</tspan><tspan x="1068">472</tspan><tspan x="1097">457</tspan><tspan x="1126">473</tspan><tspan x="1155">458</tspan><tspan x="1184">474</tspan><tspan x="1213">459</tspan><tspan x="1242">475</tspan><tspan x="1271">460</tspan><tspan x="1300">476</tspan><tspan x="1329">461</tspan><tspan x="1358">477</tspan><tspan x="1387">462</tspan><tspan x="1416">478</tspan><tspan x="1445">463</tspan><tspan x="1474">479</tspan></text>
<text y="402.5"><tspan x="575">480</tspan><tspan x="604">496</tspan><tspan x="633">481</tspan><tspan x="662">497</tspan><tspan x="691">482</tspan><tspan x="720">498</tspan><tspan x="749">483</tspan><tspan x="778">499</tspan><tspan x="807">484</tspan><tspan x="836">500</tspan><tspan x="865">485</tspan><tspan x="894">501</tspan><tspan x="923">486</tspan><tspan x="952">502</tspan><tspan x="981">487</tspan><tspan x="1010">503</tspan><tspan x="1039">488</tspan><tspan x="1068">504</tspan><tspan x="1097">489</tspan><tspan x="1126">505</tspan><tspan x="1155">490</tspan><tspan x="1184">506</tspan><tspan x="1213">491</tspan><tspan x="1242">507</tspan><tspan x="1271">492</tspan><tspan x="1300">508</tspan><tspan x="1329">493</tspan><tspan x="1358">509</tspan><tspan x="1387">494</tspan><tspan x="1416">510</tspan><tspan x="1445">495</tspan><tspan x="1474">511</tspan></text>
</g>
</g>
<g id="connectors">
<polygon id="arrow" points="477,274 533,274 533,262 559,287.5 533,313 533,301 477,301" fill="#4472C4" stroke="#3A65B0" stroke-width="0.8"/>
</g>
<text id="caption" class="cap" x="9" y="627"><tspan font-weight="bold" letter-spacing="-1.4">Figure 4:</tspan> Re-layout of 32x16 bfloat16 B Matrix</text>
</svg>
